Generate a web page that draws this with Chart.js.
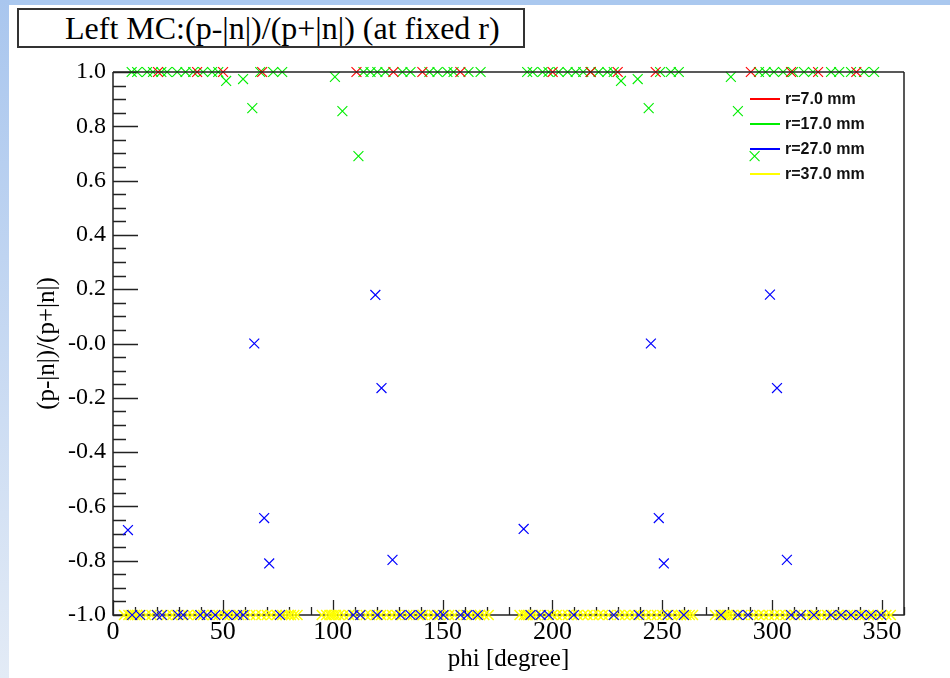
<!DOCTYPE html>
<html><head><meta charset="utf-8">
<script src="https://cdn.jsdelivr.net/npm/chart.js@4"></script>
<style>
html,body{margin:0;padding:0;width:950px;height:678px;overflow:hidden;background:#fff;}
#bgTop{position:absolute;left:0;top:0;width:950px;height:5px;background:#aac8ef;}
#bgLeft{position:absolute;left:0;top:0;width:9px;height:678px;background:linear-gradient(#a9c6ee,#e3ebf6);}
#title{position:absolute;left:17px;top:8px;width:504px;height:36px;border:2px solid #333;background:#fff;font-family:"Liberation Serif",serif;font-size:32px;line-height:36px;white-space:nowrap;}
#title span{position:absolute;left:46px;top:0;}
canvas{position:absolute;left:0;top:0;}
</style></head>
<body>
<div id="bgTop"></div><div id="bgLeft"></div>
<canvas id="c" width="950" height="678"></canvas>
<div id="title"><span>Left MC:(p-|n|)/(p+|n|) (at fixed r)</span></div>
<script>
// ---- data: [phi (degree), (p-|n|)/(p+|n|)] ----
const seriesLabels = ['r=7.0 mm', 'r=17.0 mm', 'r=27.0 mm', 'r=37.0 mm'];
const seriesColors = ['#ff0000', '#00ee00', '#0000ff', '#ffff00'];

const r7Points = [[20.5,1],[38.3,1],[50.1,1],[67.9,1],[110.8,1],[127.6,1],[140.8,1],[158.1,1],
  [200.1,1],[217.4,1],[229.7,1],[247.0,1],[290.3,1],[308.6,1],[320.9,1],[338.3,1]];

const r17Points = [[8.5,1],[11,1],[15.5,1],[18.2,1],[22,1],[24.6,1],[29.2,1],[33,1],[36.5,1],[41,1],[45.1,1],[47.9,1],
  [51.5,0.967],[59.2,0.974],[63.4,0.867],[67,1],[72.9,1],[77,1],[101,0.982],[104.4,0.856],[111.7,0.69],
  [114,1],[117.2,1],[120.3,1],[124,1],[131.7,1],[135.4,1],[144,1],[147.7,1],[152.2,1],[155,1],[161.8,1],[167.3,1],
  [188.5,1],[191,1],[195.5,1],[198.2,1],[202.8,1],[206.9,1],[210.6,1],[214,1],[217.4,1],[221,1],[225,1],[227.9,1],
  [231.2,0.967],[238.8,0.974],[243.8,0.867],[249,1],[253.9,1],[257.5,1],[281.2,0.982],[284.4,0.856],[292,0.69],
  [294,1],[297,1],[300.8,1],[305,1],[309.5,1],[314.5,1],[318.6,1],[326.8,1],[330.5,1],[335.9,1],[341.8,1],[346.4,1]];

const r27Points = [[6.8,-0.687],[64.3,0.0],[68.8,-0.643],[71.1,-0.81],[119.4,0.179],[122.2,-0.164],[127.2,-0.797],
  [186.9,-0.683],[244.8,0.0],[248.4,-0.643],[250.7,-0.81],[299,0.18],[302.2,-0.164],[306.7,-0.797],
  [8.7,-1],[12.3,-1],[20,-1],[22.3,-1],[29.6,-1],[31.9,-1],[39.7,-1],[42.8,-1],[46.5,-1],[52,-1],[56.5,-1],[59.3,-1],[76,-1],
  [109.4,-1],[112.6,-1],[120.3,-1],[130.8,-1],[135.4,-1],[140,-1],[147.7,-1],[150.4,-1],[158.2,-1],[161.3,-1],[166,-1],
  [190,-1],[194.6,-1],[198.3,-1],[209.7,-1],[227.9,-1],[239.3,-1],[252.5,-1],[259.8,-1],
  [276.7,-1],[284.4,-1],[289,-1],[308.6,-1],[313.1,-1],[319,-1],[326.8,-1],[331.4,-1],[335.9,-1],[340.5,-1],[345,-1],[349.6,-1]];

const r37Points = [[5,-1],[7,-1],[8,-1],[9,-1],[10,-1],[11,-1],[12.5,-1],[15,-1],[17.5,-1],[20,-1],[22,-1],[24.5,-1],[27,-1],[29,-1],
  [31.5,-1],[34,-1],[36,-1],[38.5,-1],[41,-1],[43,-1],[45.5,-1],[48,-1],[50.5,-1],[53,-1],[55,-1],[57.5,-1],[60,-1],[62.5,-1],
  [65,-1],[67.5,-1],[70,-1],[72,-1],[74.5,-1],[77,-1],[78.5,-1],[80,-1],[81,-1],[82.5,-1],[84,-1],
  [95,-1],[97,-1],[98.5,-1],[99.5,-1],[100.5,-1],[101.5,-1],[103,-1],[105,-1],[107.5,-1],[110,-1],[112.5,-1],[115,-1],[117,-1],
  [119.5,-1],[122,-1],[124.5,-1],[127,-1],[129,-1],[131.5,-1],[134,-1],[136.5,-1],[139,-1],[141,-1],[143.5,-1],[146,-1],
  [148.5,-1],[151,-1],[153,-1],[155.5,-1],[158,-1],[160.5,-1],[163,-1],[165,-1],[167,-1],[169,-1],[171,-1],
  [185,-1],[187,-1],[188,-1],[189,-1],[190,-1],[191,-1],[192.5,-1],[195,-1],[197.5,-1],[200,-1],[202,-1],[204.5,-1],[207,-1],
  [209,-1],[211.5,-1],[214,-1],[216,-1],[218.5,-1],[221,-1],[223,-1],[225.5,-1],[228,-1],[230.5,-1],[233,-1],[235,-1],
  [237.5,-1],[240,-1],[242.5,-1],[245,-1],[247.5,-1],[250,-1],[252,-1],[254.5,-1],[257,-1],[258.5,-1],[260,-1],[261,-1],[262.5,-1],[264,-1],
  [274,-1],[276,-1],[277.5,-1],[278.5,-1],[279.5,-1],[280.5,-1],[282,-1],[284,-1],[286.5,-1],[289,-1],[291.5,-1],[294,-1],
  [296,-1],[298.5,-1],[301,-1],[303.5,-1],[306,-1],[308,-1],[310.5,-1],[313,-1],[315.5,-1],[318,-1],[320,-1],[322.5,-1],
  [325,-1],[327.5,-1],[330,-1],[332,-1],[334.5,-1],[337,-1],[339.5,-1],[342,-1],[344,-1],[346,-1],[348,-1],[350,-1],[352,-1],[354,-1]];

const xTickValues = [0, 50, 100, 150, 200, 250, 300, 350];
const xTickLabels = ['0', '50', '100', '150', '200', '250', '300', '350'];
const yTickValues = [-1, -0.8, -0.6, -0.4, -0.2, 0, 0.2, 0.4, 0.6, 0.8, 1];
const yTickLabels = ['-1.0', '-0.8', '-0.6', '-0.4', '-0.2', '-0.0', '0.2', '0.4', '0.6', '0.8', '1.0'];
const xRange = [0, 360];
const yRange = [-1, 1];

const allSeries = [r7Points, r17Points, r27Points, r37Points];
const drawOrder = [0, 1, 1, 2];
const markerWidth = [1.1, 1.1, 1.2, 1.5];

const datasets = allSeries.map((pts, i) => ({
  label: seriesLabels[i],
  data: pts.map(p => ({x: p[0], y: p[1]})),
  showLine: false,
  pointStyle: 'crossRot',
  pointRadius: 7,
  pointHoverRadius: 7,
  pointBorderWidth: markerWidth[i],
  borderColor: seriesColors[i],
  backgroundColor: seriesColors[i],
  pointBorderColor: seriesColors[i],
  clip: false,
  order: drawOrder[i]
}));

const framePlugin = {
  id: 'rootFrame',
  beforeDatasetsDraw(chart) {
    const {ctx, chartArea: a, scales: {x, y}} = chart;
    ctx.save();
    ctx.strokeStyle = '#222';
    ctx.lineWidth = 1.5;
    ctx.beginPath();
    ctx.moveTo(a.left, a.top); ctx.lineTo(a.left, a.bottom); ctx.lineTo(a.right, a.bottom); ctx.lineTo(a.right, a.top);
    ctx.stroke();
    ctx.lineWidth = 1.3;
    ctx.beginPath();
    for (let v = xRange[0]; v <= xRange[1]; v += 10) {
      const px = Math.round(x.getPixelForValue(v)) + 0.5;
      const len = xTickValues.includes(v) ? 15 : 8;
      ctx.moveTo(px, a.bottom); ctx.lineTo(px, a.bottom - len);
    }
    for (let k = 0; k <= 40; k++) {
      const v = yRange[0] + k * 0.05;
      const py = Math.round(y.getPixelForValue(v)) + 0.5;
      const len = (k % 4 === 0) ? 25 : 13;
      ctx.moveTo(a.left, py); ctx.lineTo(a.left + len, py);
    }
    ctx.stroke();
    ctx.restore();
  },
  afterDatasetsDraw(chart) {
    const {ctx, chartArea: a} = chart;
    ctx.save();
    ctx.strokeStyle = '#222';
    ctx.lineWidth = 1.5;
    ctx.beginPath();
    ctx.moveTo(a.left, a.top); ctx.lineTo(a.right, a.top);
    ctx.stroke();
    ctx.restore();
  },
  afterDraw(chart) {
    const {ctx} = chart;
    ctx.save();
    ctx.font = 'bold 16px "Liberation Sans", Arial, sans-serif';
    ctx.textBaseline = 'middle';
    ctx.textAlign = 'left';
    chart.data.datasets.forEach((ds, i) => {
      const yy = 99 + i * 25;
      ctx.strokeStyle = ds.borderColor;
      ctx.lineWidth = 2;
      ctx.beginPath(); ctx.moveTo(750, yy); ctx.lineTo(780, yy); ctx.stroke();
      ctx.fillStyle = '#111';
      ctx.fillText(ds.label, 785, yy + 1);
    });
    ctx.restore();
  }
};

new Chart(document.getElementById('c'), {
  type: 'scatter',
  data: {datasets},
  options: {
    responsive: false,
    animation: false,
    devicePixelRatio: 1,
    layout: {padding: {top: 72, right: 46, left: 0, bottom: 0}},
    plugins: {legend: {display: false}, tooltip: {enabled: false}, title: {display: false}},
    events: [],
    scales: {
      x: {
        type: 'linear', min: xRange[0], max: xRange[1],
        afterBuildTicks: s => { s.ticks = xTickValues.map(v => ({value: v})); },
        afterFit: s => { s.height = 63; },
        grid: {display: false, drawTicks: false},
        border: {display: false},
        ticks: {color: '#000', padding: 2, maxRotation: 0, autoSkip: false,
          font: {family: '"Liberation Serif", serif', size: 26},
          callback: (v, i) => xTickLabels[i]},
        title: {display: true, text: 'phi [degree]', color: '#000',
          font: {family: '"Liberation Serif", serif', size: 25}, padding: {top: 0, bottom: 4}}
      },
      y: {
        type: 'linear', min: yRange[0], max: yRange[1],
        afterBuildTicks: s => { s.ticks = yTickValues.map(v => ({value: v})); },
        afterFit: s => { s.width = 113; },
        grid: {display: false, drawTicks: false},
        border: {display: false},
        ticks: {color: '#000', padding: 7, autoSkip: false,
          font: {family: '"Liberation Serif", serif', size: 24},
          callback: (v, i) => yTickLabels[i]},
        title: {display: true, text: '(p-|n|)/(p+|n|)', color: '#000',
          font: {family: '"Liberation Serif", serif', size: 25}, padding: {top: 32, bottom: 0}}
      }
    }
  },
  plugins: [framePlugin]
});
</script>
</body></html>
